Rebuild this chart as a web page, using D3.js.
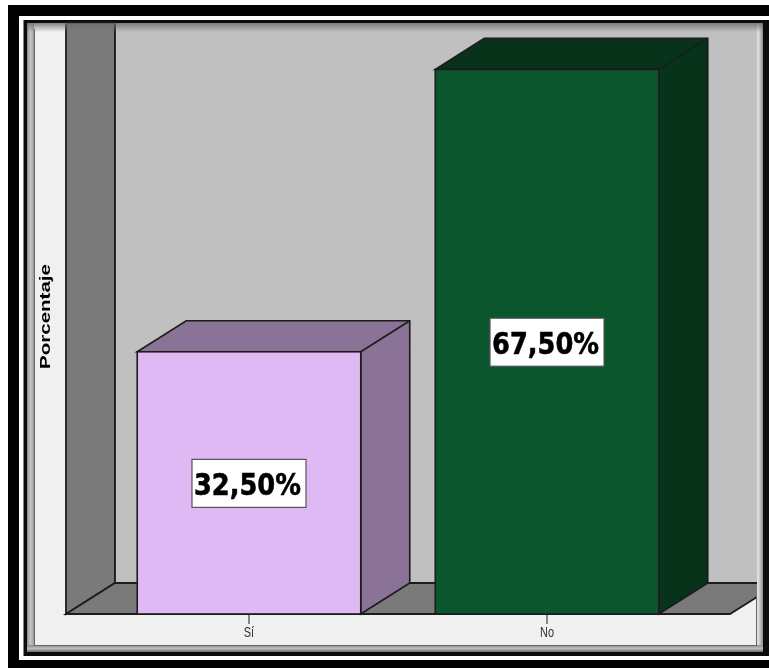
<!DOCTYPE html>
<html>
<head>
<meta charset="utf-8">
<script src="https://cdn.jsdelivr.net/npm/d3@7"></script>
<style>
  html, body { margin: 0; padding: 0; background: #fff; }
  svg { display: block; filter: blur(0.4px); }
</style>
</head>
<body>
<svg id="chart"></svg>
<script>
const categories = ['Sí', 'No'];
const values = [32.5, 67.5];
const labels = ['32,50%', '67,50%'];
const fronts = ['#dfb9f3', '#0b562d'];
const sides = ['#8a7396', '#07331b'];

const width = 769;
const height = 668;
const depthX = 49;
const depthY = -31;
const line = '#1c1c1c';

const svg = d3.select('#chart').attr('width', width).attr('height', height);
const defs = svg.append('defs');

function gradient(id, vertical, stops) {
  const g = defs.append('linearGradient').attr('id', id)
    .attr('x1', 0).attr('y1', 0)
    .attr('x2', vertical ? 0 : 1).attr('y2', vertical ? 1 : 0);
  stops.forEach(s => g.append('stop').attr('offset', s[0]).attr('stop-color', s[1]).attr('stop-opacity', s[2] === undefined ? 1 : s[2]));
}
gradient('frameLeft', false, [[0, '#8c8c8c'], [0.45, '#c8c8c8'], [1, '#9a9a9a']]);
gradient('frameRight', false, [[0, '#e6e6e6'], [0.4, '#cfcfcf'], [1, '#8a8a8a']]);
gradient('frameBottom', true, [[0, '#8a8a8a'], [0.5, '#bdbdbd'], [1, '#6e6e6e']]);
gradient('frameTop', true, [[0, '#707070', 0.85], [1, '#707070', 0]]);

// outer picture frame
svg.append('rect').attr('x', 8).attr('y', 5).attr('width', 761).attr('height', 663).attr('fill', '#000');
svg.append('rect').attr('x', 19).attr('y', 16).attr('width', 750).attr('height', 644).attr('fill', '#fff');
svg.append('rect').attr('x', 23.5).attr('y', 20).attr('width', 745.5).attr('height', 636).attr('fill', '#0c0c0c');
svg.append('rect').attr('x', 27).attr('y', 23).attr('width', 736).attr('height', 629).attr('fill', '#f0f0f0');

const y = d3.scaleLinear().domain([0, 73.5]).range([614, 21]);
const x = d3.scaleBand().domain(categories).range([66, 730]).paddingInner(0.25).paddingOuter(0.239);
const baseY = y(0);
const topY = 23;

// side wall
svg.append('path')
  .attr('d', d3.line()([[66, topY], [66, baseY], [66 + depthX, baseY + depthY], [66 + depthX, topY]]) + 'Z')
  .attr('fill', '#7a7a7a').attr('stroke', line).attr('stroke-width', 1.8);

// back wall
svg.append('rect').attr('x', 66 + depthX).attr('y', topY).attr('width', 757 - 66 - depthX).attr('height', baseY + depthY - topY)
  .attr('fill', '#c0c0c0');
svg.append('line').attr('x1', 66 + depthX).attr('x2', 66 + depthX).attr('y1', topY).attr('y2', baseY + depthY)
  .attr('stroke', line).attr('stroke-width', 1.8);

// floor
const floorEnd = 757;
const floorFrontEnd = 730;
const floorEndY = baseY + (floorEnd - floorFrontEnd) * depthY / depthX;
svg.append('path')
  .attr('d', d3.line()([[66, baseY], [66 + depthX, baseY + depthY], [floorEnd, baseY + depthY], [floorEnd, floorEndY], [floorFrontEnd, baseY]]) + 'Z')
  .attr('fill', '#7a7a7a').attr('stroke', 'none');
svg.append('path')
  .attr('d', d3.line()([[floorEnd, baseY + depthY], [66 + depthX, baseY + depthY], [66, baseY], [floorFrontEnd, baseY], [floorEnd, floorEndY]]))
  .attr('fill', 'none').attr('stroke', line).attr('stroke-width', 1.8);

// bars
const bars = svg.append('g').selectAll('g').data(categories).join('g');

bars.append('path') // top and side faces
  .attr('d', (d, i) => {
    const x0 = x(d), x1 = x0 + x.bandwidth(), t = y(values[i]);
    return d3.line()([[x0, t], [x0 + depthX, t + depthY], [x1 + depthX, t + depthY], [x1 + depthX, baseY + depthY], [x1, baseY], [x1, t]]) + 'Z';
  })
  .attr('fill', (d, i) => sides[i])
  .attr('stroke', line).attr('stroke-width', 1.6);

bars.append('line')
  .attr('x1', d => x(d) + x.bandwidth())
  .attr('x2', d => x(d) + x.bandwidth() + depthX)
  .attr('y1', (d, i) => y(values[i]))
  .attr('y2', (d, i) => y(values[i]) + depthY)
  .attr('stroke', line).attr('stroke-width', 1.6);

bars.append('rect')
  .attr('x', d => x(d))
  .attr('y', (d, i) => y(values[i]))
  .attr('width', x.bandwidth())
  .attr('height', (d, i) => baseY - y(values[i]))
  .attr('fill', (d, i) => fronts[i])
  .attr('stroke', line).attr('stroke-width', 1.6);

// value labels
const labelW = 114;
const labelH = 48;
bars.append('rect')
  .attr('x', d => x(d) + x.bandwidth() / 2 - labelW / 2)
  .attr('y', (d, i) => (y(values[i]) + baseY) / 2 - labelH / 2 + 0.5)
  .attr('width', labelW).attr('height', labelH)
  .attr('fill', '#fff').attr('stroke', '#555').attr('stroke-width', 1.2);

bars.append('text')
  .attr('x', d => x(d) + x.bandwidth() / 2 - 1.5)
  .attr('y', (d, i) => (y(values[i]) + baseY) / 2 + 12)
  .attr('text-anchor', 'middle')
  .attr('font-family', '"DejaVu Sans", sans-serif')
  .attr('font-weight', 'bold')
  .attr('font-size', 30)
  .attr('textLength', 107)
  .attr('lengthAdjust', 'spacingAndGlyphs')
  .attr('fill', '#000')
  .attr('stroke', '#000')
  .attr('stroke-width', 0.6)
  .text((d, i) => labels[i]);

// x axis
const xAxis = d3.axisBottom(x).tickSize(10).tickPadding(3).tickSizeOuter(0);
const axisG = svg.append('g').attr('transform', `translate(0,${baseY})`).call(xAxis);
axisG.select('.domain').remove();
axisG.selectAll('line').attr('stroke', line).attr('stroke-width', 1);
axisG.selectAll('text')
  .attr('font-family', '"Liberation Sans", sans-serif')
  .attr('font-size', 14)
  .attr('fill', '#333')
  .attr('lengthAdjust', 'spacingAndGlyphs')
  .attr('textLength', function () { return this.getComputedTextLength() * 0.78; }); // narrow look

// y title
svg.append('text')
  .attr('transform', 'translate(49.5,316.5) rotate(-90)')
  .attr('text-anchor', 'middle')
  .attr('font-family', '"Liberation Sans", sans-serif')
  .attr('font-weight', 'bold')
  .attr('font-size', 15.5)
  .attr('textLength', 105)
  .attr('lengthAdjust', 'spacingAndGlyphs')
  .attr('fill', '#000')
  .text('Porcentaje');

// inner bevel of the frame
svg.append('rect').attr('x', 27).attr('y', 23).attr('width', 7).attr('height', 629).attr('fill', 'url(#frameLeft)');
svg.append('rect').attr('x', 757).attr('y', 23).attr('width', 6).attr('height', 629).attr('fill', 'url(#frameRight)');
svg.append('rect').attr('x', 27).attr('y', 645).attr('width', 736).attr('height', 7).attr('fill', 'url(#frameBottom)');
svg.append('rect').attr('x', 27).attr('y', 23).attr('width', 736).attr('height', 9).attr('fill', 'url(#frameTop)');
svg.append('line').attr('x1', 34.5).attr('x2', 34.5).attr('y1', 29).attr('y2', 645).attr('stroke', '#666');
svg.append('line').attr('x1', 34).attr('x2', 757).attr('y1', 645.5).attr('y2', 645.5).attr('stroke', '#666');
svg.append('line').attr('x1', 756.5).attr('x2', 756.5).attr('y1', floorEndY).attr('y2', 645).attr('stroke', '#666');
</script>
</body>
</html>
